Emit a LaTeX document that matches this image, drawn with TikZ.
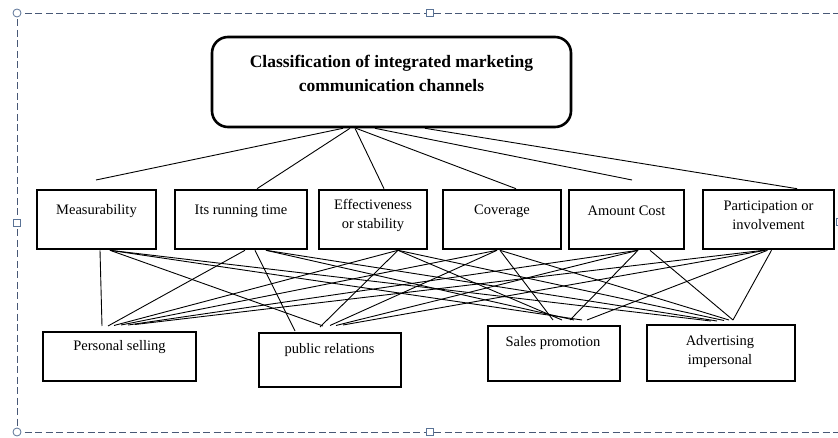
\documentclass[tikz,border=0pt]{standalone}
\usepackage{fontspec}
\setmainfont{Liberation Serif}
\definecolor{framec}{RGB}{72,88,118}
\definecolor{handlec}{RGB}{90,115,150}
\begin{document}
\begin{tikzpicture}[x=1pt,y=-1pt,
  box/.style={draw=black,line width=2.6pt,rectangle,inner sep=0pt},
  titlebox/.style={draw=black,line width=2.6pt,rectangle,rounded corners=16pt,inner sep=0pt},
  lbl/.style={inner sep=0pt,align=center,font=\fontsize{14.5}{19}\selectfont},
  conn/.style={draw=black,line width=0.9pt},
  handlesq/.style={draw=handlec,fill=white,line width=0.8pt,rectangle,minimum size=6.5pt,inner sep=0pt},
  handlecirc/.style={draw=handlec,fill=white,line width=0.8pt,circle,minimum size=8pt,inner sep=0pt}]
\useasboundingbox (0,0) rectangle (838,438);
% selection frame
\draw[framec,line width=0.9pt,dash pattern=on 7pt off 3.5pt] (840,13) -- (17,13) -- (17,432) -- (840,432);
\node[handlecirc] (h1) at (17,13) {};
\node[handlecirc] (h2) at (17,432) {};
\node[handlesq] (h3) at (430,13) {};
\node[handlesq] (h4) at (430,432) {};
\node[handlesq] (h5) at (17,223) {};
\node[handlesq] (h6) at (840,222) {};
% title
\node[titlebox,minimum width=359pt,minimum height=90pt] (T) at (391.5,82) {};
\node[inner sep=0pt,align=center,font=\fontsize{17.5}{24}\selectfont\bfseries] (Tt) at (391.5,73) {Classification of integrated marketing\\communication channels};
% top boxes
\node[box,minimum width=119pt,minimum height=59pt] (M) at (96.5,219.5) {};
\node[box,minimum width=132pt,minimum height=59pt] (R) at (241,219.5) {};
\node[box,minimum width=108pt,minimum height=59pt] (E) at (373,219.5) {};
\node[box,minimum width=118pt,minimum height=59pt] (C) at (502,219.5) {};
\node[box,minimum width=115pt,minimum height=59pt] (A) at (626.5,219.5) {};
\node[box,minimum width=131pt,minimum height=59pt] (P) at (768.5,219.5) {};
\node[lbl] (Mt) at (96.5,211) {Measurability};
\node[lbl] (Rt) at (241,211) {Its running time};
\node[lbl] (Et) at (373,215.5) {Effectiveness\\or stability};
\node[lbl] (Ct) at (502,211) {Coverage};
\node[lbl] (At) at (626.5,211) {Amount Cost};
\node[lbl] (Pt) at (768.5,215.5) {Participation or\\involvement};
% bottom boxes
\node[box,minimum width=153pt,minimum height=49pt] (PS) at (119.5,356.5) {};
\node[box,minimum width=142pt,minimum height=54pt] (PR) at (330,360) {};
\node[box,minimum width=132pt,minimum height=55pt] (SP) at (554,353.5) {};
\node[box,minimum width=148pt,minimum height=56pt] (AD) at (721,353) {};
\node[lbl] (PSt) at (119.5,347) {Personal selling};
\node[lbl] (PRt) at (329.5,350) {public relations};
\node[lbl] (SPt) at (553,343) {Sales promotion};
\node[lbl] (ADt) at (720,351.5) {Advertising\\impersonal};
% title connectors
\coordinate (mfree) at (96,180);
\coordinate (afree) at (632,180);
\draw[conn] ([xshift=-48.5pt]T.south) -- (mfree);
\draw[conn] ([xshift=-41.5pt]T.south) -- ([xshift=16pt]R.north);
\draw[conn] ([xshift=-36.5pt]T.south) -- ([xshift=11pt]E.north);
\draw[conn] ([xshift=-35.5pt]T.south) -- ([xshift=14pt]C.north);
\draw[conn] ([xshift=-16.5pt]T.south) -- (afree);
\draw[conn] ([xshift=33.5pt]T.south) -- ([xshift=28.5pt]P.north);
% free ends above the bottom boxes
\coordinate (ps1) at (102,326);
\coordinate (ps2) at (108,326);
\coordinate (ps3) at (114,325.5);
\coordinate (ps4) at (121,325);
\coordinate (ps5) at (128,325);
\coordinate (ps6) at (135,324.5);
\coordinate (pr1) at (323,326);
\coordinate (pr2) at (295,331);
\coordinate (pr3) at (320,327);
\coordinate (pr4) at (330,325.5);
\coordinate (pr5) at (336,325.5);
\coordinate (pr6) at (343,325);
\coordinate (sp1) at (582,320);
\coordinate (sp2) at (574,320);
\coordinate (sp3) at (562,320);
\coordinate (sp4) at (553,320);
\coordinate (sp5) at (570,320);
\coordinate (sp6) at (587,320);
\coordinate (ad1) at (711,321);
\coordinate (ad2) at (717,321);
\coordinate (ad3) at (724,320.5);
\coordinate (ad4) at (729,320);
\coordinate (ad5) at (733,320);
\coordinate (ad6) at (733,320);
% mesh: Measurability
\draw[conn] ([xshift=3.5pt]M.south) -- (ps1);
\draw[conn] ([xshift=13.5pt]M.south) -- (pr1);
\draw[conn] ([xshift=13.5pt]M.south) -- (sp1);
\draw[conn] ([xshift=13.5pt]M.south) -- (ad1);
% Its running time
\draw[conn] ([xshift=4pt]R.south) -- (ps2);
\draw[conn] ([xshift=14pt]R.south) -- (pr2);
\draw[conn] ([xshift=25pt]R.south) -- (sp2);
\draw[conn] ([xshift=25pt]R.south) -- (ad2);
% Effectiveness
\draw[conn] ([xshift=25pt]E.south) -- (ps3);
\draw[conn] ([xshift=25pt]E.south) -- (pr3);
\draw[conn] ([xshift=25pt]E.south) -- (sp3);
\draw[conn] ([xshift=25pt]E.south) -- (ad3);
% Coverage
\draw[conn] ([xshift=-5pt]C.south) -- (ps4);
\draw[conn] ([xshift=-5pt]C.south) -- (pr4);
\draw[conn] ([xshift=-2pt]C.south) -- (sp4);
\draw[conn] ([xshift=-2pt]C.south) -- (ad4);
% Amount Cost
\draw[conn] ([xshift=11.5pt]A.south) -- (ps5);
\draw[conn] ([xshift=11.5pt]A.south) -- (pr5);
\draw[conn] ([xshift=11.5pt]A.south) -- (sp5);
\draw[conn] ([xshift=23.5pt]A.south) -- (ad5);
% Participation
\draw[conn] ([xshift=-5pt]P.south) -- (ps6);
\draw[conn] ([xshift=-3pt]P.south) -- (pr6);
\draw[conn] ([xshift=-1pt]P.south) -- (sp6);
\draw[conn] ([xshift=3pt]P.south) -- (ad6);
\end{tikzpicture}
\end{document}
